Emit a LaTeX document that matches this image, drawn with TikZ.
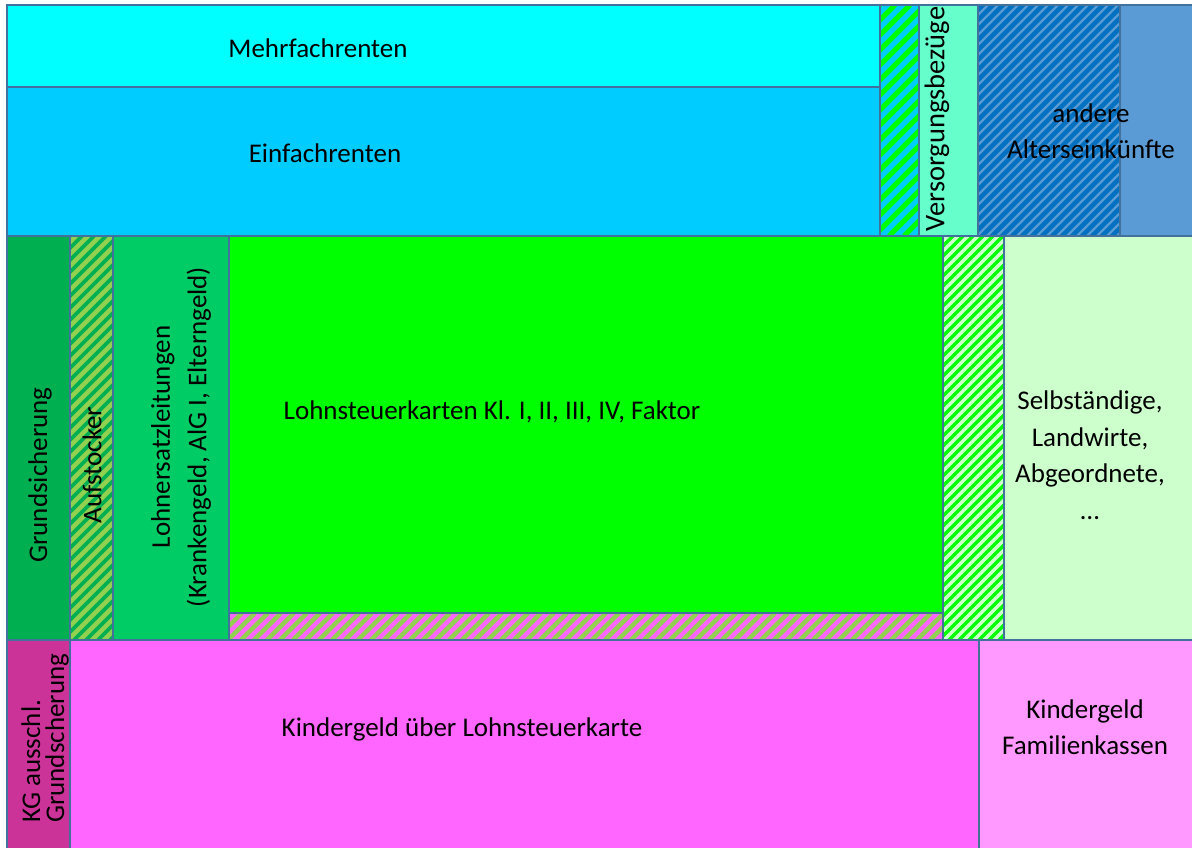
\documentclass[tikz,border=0pt]{standalone}
\usepackage{fontspec}
\setmainfont{Carlito}
\usepackage{tikz}

\definecolor{edgeBlue}{HTML}{41719C}
\definecolor{mehrCol}{HTML}{00FFFF}
\definecolor{einCol}{HTML}{00CCFF}
\definecolor{versCol}{HTML}{66FFCC}
\definecolor{dunkelBlau}{HTML}{0070C0}
\definecolor{hellBlau}{HTML}{5B9BD5}
\definecolor{grundCol}{HTML}{00B050}
\definecolor{aufCol}{HTML}{92D050}
\definecolor{ersatzCol}{HTML}{00CC66}
\definecolor{lstCol}{HTML}{00FF00}
\definecolor{selbCol}{HTML}{CCFFCC}
\definecolor{kgaCol}{HTML}{CC3399}
\definecolor{kgCol}{HTML}{FF66FF}
\definecolor{famCol}{HTML}{FF99FF}

\tikzset{
  cell/.style = {draw=edgeBlue, line width=1.8pt},
  lbl/.style = {inner sep=0pt, align=center, text=black}
}

% hatched box: x0, y0, x1, y1, back, stripe, period
\newcommand\hatchbox[7]{%
  \begin{scope}
    \fill[#5] (#1,#2) rectangle (#3,#4);
    \clip (#1,#2) rectangle (#3,#4);
    \pgfmathsetmacro\hh{#4-#2}
    \pgfmathsetmacro\xstart{#1-\hh}
    \pgfmathsetmacro\xnext{#1-\hh+#7}
    \foreach \i in {\xstart,\xnext,...,#3}
      \draw[line width=0.35*#7, #6] (\i,#4) -- ++(\hh,-\hh);
  \end{scope}
  \draw[cell] (#1,#2) rectangle (#3,#4);}

\begin{document}
\begin{tikzpicture}[x=1pt, y=-1pt, font=\fontsize{27}{36.5}\selectfont]
            \useasboundingbox[fill=white] (0,0) rectangle (1192,847);

            % top band
            \draw[cell, fill=mehrCol] (7,5) rectangle (880,87);
            \draw[cell, fill=einCol] (7,87) rectangle (880,236);
            \hatchbox{880}{5}{919}{236}{einCol}{lstCol, line width=5}{15}
            \draw[cell, fill=versCol] (919,5) rectangle (978,236);
            \hatchbox{978}{5}{1120}{236}{dunkelBlau}{hellBlau, line width=2.2}{10}
            \draw[cell, fill=hellBlau] (1120,5) rectangle (1194,236);

            % middle band
            \draw[cell, fill=grundCol] (7,236) rectangle (70,640);
            \hatchbox{70}{236}{113}{640}{aufCol}{grundCol, line width=3.6}{12}
            \draw[cell, fill=ersatzCol] (113,236) rectangle (229,640);
            \draw[cell, fill=lstCol] (229,236) rectangle (943,613);
            \hatchbox{229}{613}{943}{640}{kgCol}{aufCol}{13}
            \hatchbox{943}{236}{1004}{640}{selbCol}{lstCol}{10}
            \draw[cell, fill=selbCol] (1004,236) rectangle (1194,640);

            % bottom band
            \draw[cell, fill=kgaCol] (7,640) rectangle (70,849);
            \draw[cell, fill=kgCol] (70,640) rectangle (979,849);
            \draw[cell, fill=famCol] (979,640) rectangle (1194,849);

            % labels
            \node[lbl] (mehr) at (318,48) {Mehrfachrenten};
            \node[lbl] (ein) at (325,153) {Einfachrenten};
            \node[lbl, rotate=90, font=\fontsize{28.5}{34}\selectfont] (vers) at (937,119) {Versorgungsbezüge};
            \node[lbl] (andere) at (1091,131) {andere\\Alterseinkünfte};
            \node[lbl, rotate=90] (grund) at (40,475) {Grundsicherung};
            \node[lbl, rotate=90] (auf) at (92,465) {Aufstocker};
            \node[lbl, rotate=90] (ersatz) at (181,437) {Lohnersatzleitungen\\(Krankengeld, AlG I, Elterngeld)};
            \node[lbl] (lst) at (492,412) {Lohnsteuerkarten Kl. I, II, III, IV, Faktor};
            \node[lbl] (selb) at (1090,455) {Selbständige,\\Landwirte,\\Abgeordnete,\\…};
            \node[lbl, rotate=90, align=left, anchor=west, font=\fontsize{27}{24}\selectfont] (kga) at (45,823) {KG ausschl.\\Grundscherung};
            \node[lbl] (kg) at (462,729) {Kindergeld über Lohnsteuerkarte};
            \node[lbl] (fam) at (1085,727) {Kindergeld\\Familienkassen};
\end{tikzpicture}
\end{document}
